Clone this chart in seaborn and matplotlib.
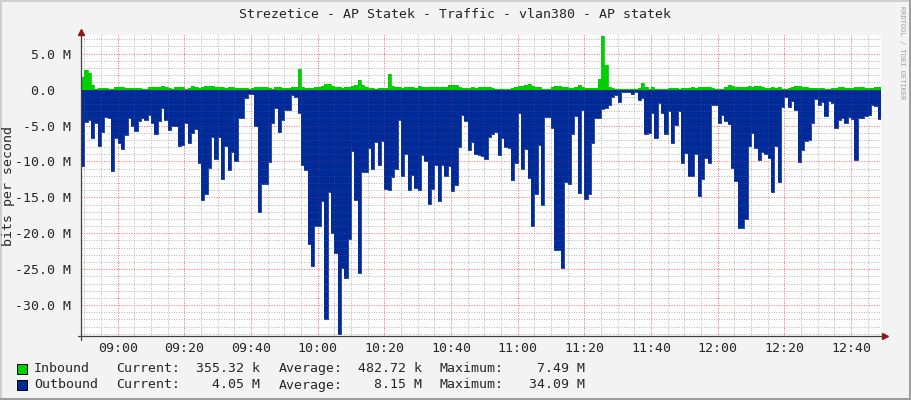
import numpy as np
import pandas as pd
import matplotlib
matplotlib.use("Agg")
import matplotlib.pyplot as plt
import matplotlib.dates as mdates
import matplotlib.ticker as mticker
from matplotlib.patches import Rectangle
import seaborn as sns

# ---------------- data ----------------
title = "Strezetice - AP Statek - Traffic - vlan380 - AP statek"
start_time = "2024-01-01 08:49"
y_label = "bits per second"

inbound_mbps = [
    1.8, 2.7, 2.3, 0.6, 0.05, 0.2, 0.25, 0.2, 0.15, 0.1,
    0.35, 0.35, 0.3, 0.25, 0.2, 0.25, 0.2, 0.2, 0.1, 0.05,
    0.3, 0.3, 0.3, 0.3, 0.45, 0.3, 0.25, 0.1, 0.3, 0.3,
    0.3, 0.1, 0.25, 0.55, 0.3, 0.2, 0.4, 0.45, 0.45, 0.45,
    0.4, 0.35, 0.3, 0.2, 0.35, 0.3, 0.2, 0.2, 0.25, 0.2,
    0.1, 0.2, 0.35, 0.35, 0.4, 0.3, 0.2, 0.15, 0.35, 0.3,
    0.2, 0.2, 0.25, 0.3, 0.3, 2.9, 0.3, 0.2, 0.25, 0.2,
    0.3, 0.4, 0.5, 0.8, 0.75, 0.5, 0.3, 0.35, 0.25, 0.3,
    0.3, 0.5, 0.6, 1.4, 0.6, 0.3, 0.2, 0.2, 0.15, 0.2,
    0.2, 0.25, 2.2, 0.5, 0.4, 0.3, 0.2, 0.3, 0.35, 0.35,
    0.25, 0.5, 0.3, 0.35, 0.3, 0.35, 0.3, 0.3, 0.35, 0.4,
    0.6, 0.65, 0.7, 0.4, 0.2, 0.2, 0.25, 0.3, 0.25, 0.3,
    0.3, 0.3, 0.3, 0.25, 0.15, 0.15, 0.15, 0.1, 0.15, 0.2,
    0.35, 0.5, 0.5, 0.65, 0.75, 0.5, 0.35, 0.3, 0.15, 0.1,
    0.15, 0.4, 0.45, 0.45, 0.4, 0.35, 0.2, 0.2, 0.3, 0.7,
    0.35, 0.2, 0.25, 0.2, 0.2, 1.5, 7.49, 3.4, 0.35, 0.25,
    0.05, 0.05, 0.02, 0.05, 0.03, 0.05, 0.1, 0.2, 0.85, 0.3,
    0.1, 0.4, 0.05, 0.02, 0.02, 0.15, 0.2, 0.2, 0.2, 0.15,
    0.2, 0.25, 0.25, 0.3, 0.2, 0.3, 0.3, 0.35, 0.3, 0.2,
    0.1, 0.15, 0.1, 0.4, 0.6, 0.5, 0.35, 0.35, 0.3, 0.4,
    0.45, 0.4, 0.5, 0.55, 0.35, 0.2, 0.25, 0.3, 0.25, 0.3,
    0.15, 0.02, 0.2, 0.4, 0.45, 0.45, 0.35, 0.3, 0.2, 0.2,
    0.2, 0.2, 0.25, 0.1, 0.1, 0.2, 0.25, 0.3, 0.3, 0.25,
    0.2, 0.2, 0.3, 0.3, 0.3, 0.25, 0.2, 0.2, 0.3, 0.36,
]

outbound_mbps = [
    10.6, 4.5, 4.3, 6.7, 4.6, 7.9, 5.9, 3.8, 4.0, 11.4,
    6.7, 7.4, 8.3, 6.3, 4.0, 5.0, 5.7, 4.4, 3.9, 4.3,
    3.5, 4.7, 6.2, 4.4, 2.6, 4.3, 5.6, 5.1, 5.0, 7.8,
    7.7, 4.6, 7.4, 6.1, 5.5, 10.2, 15.3, 14.6, 10.9, 6.6,
    9.7, 6.6, 12.5, 7.8, 11.2, 8.7, 10.0, 4.0, 4.0, 1.2,
    0.6, 0.65, 5.0, 17.1, 13.2, 13.2, 10.1, 4.6, 2.6, 5.9,
    4.3, 2.9, 2.8, 0.8, 1.1, 3.2, 10.5, 11.2, 21.5, 24.5,
    19.0, 19.0, 15.5, 32.0, 14.3, 19.9, 22.7, 34.09, 24.9, 26.2,
    20.8, 8.5, 15.3, 25.5, 11.5, 11.5, 8.1, 11.1, 7.3, 10.5,
    7.1, 13.8, 14.0, 12.2, 11.1, 4.2, 12.0, 8.9, 14.0, 11.9,
    13.75, 14.0, 9.1, 10.0, 15.9, 13.9, 10.5, 15.5, 10.5, 12.0,
    10.6, 14.1, 13.3, 8.0, 3.6, 4.4, 8.4, 7.3, 8.9, 9.1,
    9.3, 9.7, 6.6, 6.25, 5.9, 9.1, 6.8, 8.0, 8.1, 12.6,
    10.2, 3.3, 11.1, 8.2, 12.3, 19.0, 14.5, 7.7, 16.1, 3.8,
    3.8, 5.3, 22.3, 22.3, 24.8, 12.8, 13.1, 6.25, 3.7, 14.4,
    2.9, 15.2, 14.5, 7.5, 4.0, 3.9, 2.7, 2.5, 2.1, 1.0,
    0.7, 1.7, 0.3, 0.3, 0.3, 0.6, 0.3, 1.4, 1.2, 6.2,
    6.0, 3.3, 6.7, 1.8, 3.3, 6.2, 3.0, 7.4, 4.9, 3.0,
    10.2, 8.8, 12.0, 12.0, 8.9, 14.8, 12.4, 9.5, 10.2, 2.1,
    2.1, 4.7, 3.5, 4.4, 4.8, 10.9, 12.7, 19.3, 19.2, 18.0,
    7.9, 6.0, 8.1, 9.8, 8.75, 9.0, 9.5, 14.3, 7.9, 12.9,
    2.4, 1.0, 2.4, 1.6, 2.9, 10.1, 8.4, 7.2, 7.0, 4.7,
    1.25, 2.1, 1.7, 3.7, 1.6, 1.9, 5.3, 4.3, 4.0, 4.7,
    3.8, 4.1, 9.8, 4.0, 3.9, 3.7, 3.6, 2.1, 2.3, 4.05,
]

y_ticks = [5, 0, -5, -10, -15, -20, -25, -30]
y_tick_labels = ["5.0 M", "0.0  ", "-5.0 M", "-10.0 M", "-15.0 M",
                 "-20.0 M", "-25.0 M", "-30.0 M"]

legend_names = ["Inbound", "Outbound"]
legend_current = ["355.32 k", "4.05 M"]
legend_average = ["482.72 k", "8.15 M"]
legend_maximum = ["7.49 M", "34.09 M"]
series_colors = ["#00CF00", "#002A97"]

# ---------------- style ----------------
sns.set_style("white")
plt.rcParams["font.family"] = ["DejaVu Sans Mono", "DejaVu Sans"]
plt.rcParams["font.size"] = 9.5

W, H = 911, 400
fig = plt.figure(figsize=(W / 100, H / 100), dpi=100, facecolor="#F3F3F3")

ax_l, ax_r, ax_t, ax_b = 81, 881, 35, 336
ax = fig.add_axes([ax_l / W, 1 - ax_b / H, (ax_r - ax_l) / W, (ax_b - ax_t) / H])
ax.set_facecolor("white")

n = len(inbound_mbps)
times = pd.date_range(start_time, periods=n + 1, freq="min")
inb = np.array(inbound_mbps + [inbound_mbps[-1]])
outb = -np.array(outbound_mbps + [outbound_mbps[-1]])
df = pd.DataFrame({"time": times, "inbound": inb, "outbound": outb})

ax.fill_between(df["time"], 0, df["outbound"], step="post",
                color=series_colors[1], linewidth=0, zorder=2)
ax.fill_between(df["time"], 0, df["inbound"], step="post",
                color=series_colors[0], linewidth=0, zorder=2)
sns.lineplot(data=df, x="time", y="outbound", ax=ax, color=series_colors[1],
             drawstyle="steps-post", linewidth=0.6, estimator=None, zorder=2.2)
sns.lineplot(data=df, x="time", y="inbound", ax=ax, color=series_colors[0],
             drawstyle="steps-post", linewidth=0.6, estimator=None, zorder=2.2)

ax.set_xlim(times[0], times[-1])
ax.set_ylim(-34.3, 7.6)
ax.set_xlabel("")
ax.set_ylabel("")

ax.xaxis.set_major_locator(mdates.MinuteLocator(byminute=[0, 20, 40]))
ax.xaxis.set_minor_locator(mdates.MinuteLocator(byminute=range(0, 60, 5)))
ax.xaxis.set_major_formatter(mdates.DateFormatter("%H:%M"))
ax.set_yticks(y_ticks)
ax.set_yticklabels(y_tick_labels)
ax.yaxis.set_minor_locator(mticker.MultipleLocator(1))

# grid under the data ...
ax.set_axisbelow(True)
minor_grid = dict(color="#A8A8A8", linestyle=(0, (1, 1.5)), linewidth=0.72)
major_grid = dict(color="#FF5050", linestyle=(0, (1, 1.5)), linewidth=0.72)
ax.grid(which="minor", alpha=0.75, **minor_grid)
ax.grid(which="major", alpha=0.7, **major_grid)
# ... and a faint copy over it, as rrdtool does
for xv in ax.xaxis.get_minorticklocs():
    ax.axvline(xv, alpha=0.18, zorder=3, **minor_grid)
for xv in ax.xaxis.get_majorticklocs():
    ax.axvline(xv, alpha=0.25, zorder=3, **major_grid)
for yv in ax.yaxis.get_minorticklocs():
    ax.axhline(yv, alpha=0.18, zorder=3, **minor_grid)
for yv in y_ticks:
    ax.axhline(yv, alpha=0.25, zorder=3, **major_grid)

ax.tick_params(which="both", direction="out", length=2, width=0.7,
               color="#909090", labelsize=9.5)
ax.tick_params(axis="y", which="major", pad=5)
ax.tick_params(axis="x", which="major", pad=2.5)
for s in ax.spines.values():
    s.set_visible(False)

# axis lines with arrows
axis_col = "#404040"
arrow_col = "#8B1A1A"
ax.plot([-3 / 800, 1.004], [0, 0], color=axis_col, lw=0.9,
        transform=ax.transAxes, clip_on=False, zorder=5)
ax.plot([0, 0], [-4 / 301, 1.012], color=axis_col, lw=0.9,
        transform=ax.transAxes, clip_on=False, zorder=5)
ax.plot([1.0055], [0], marker=">", markersize=4.5, color=arrow_col,
        transform=ax.transAxes, clip_on=False, zorder=6)
ax.plot([0], [1.0115], marker="^", markersize=4.5, color=arrow_col,
        transform=ax.transAxes, clip_on=False, zorder=6)

# title, axis label, watermark
fig.text(455 / W, 1 - 14 / H, title, ha="center", va="center", fontsize=9.5)
fig.text(9 / W, 1 - 186 / H, y_label, rotation=90, ha="center", va="center",
         fontsize=9.5)
fig.text(902 / W, 1 - 6 / H, "RRDTOOL / TOBI OETIKER", rotation=270,
         ha="center", va="top", fontsize=5, color="#A0A0A0")

# legend
rows_y = [368.5, 385]
for k in range(2):
    yy = 1 - rows_y[k] / H
    fig.patches.append(Rectangle((17 / W, 1 - (rows_y[k] + 5) / H), 10 / W, 10 / H,
                                 transform=fig.transFigure, facecolor=series_colors[k],
                                 edgecolor="black", linewidth=0.7))
    fig.text(34 / W, yy, legend_names[k], ha="left", va="center")
    fig.text(116.5 / W, yy, "Current:", ha="left", va="center")
    fig.text(259.5 / W, yy, legend_current[k], ha="right", va="center")
    fig.text(278.5 / W, yy, "Average:", ha="left", va="center")
    fig.text(421.5 / W, yy, legend_average[k], ha="right", va="center")
    fig.text(440 / W, yy, "Maximum:", ha="left", va="center")
    fig.text(585 / W, yy, legend_maximum[k], ha="right", va="center")

# 3D-ish frame
fig.patches.append(Rectangle((0, 1 - 2 / H), 1, 2 / H, transform=fig.transFigure,
                             facecolor="#CFCFCF", edgecolor="none"))
fig.patches.append(Rectangle((0, 0), 2 / W, 1, transform=fig.transFigure,
                             facecolor="#CFCFCF", edgecolor="none"))
fig.patches.append(Rectangle((0, 0), 1, 2 / H, transform=fig.transFigure,
                             facecolor="#9E9E9E", edgecolor="none"))
fig.patches.append(Rectangle((1 - 2 / W, 0), 2 / W, 1, transform=fig.transFigure,
                             facecolor="#9E9E9E", edgecolor="none"))

fig.savefig("out.png", dpi=100, facecolor=fig.get_facecolor())
